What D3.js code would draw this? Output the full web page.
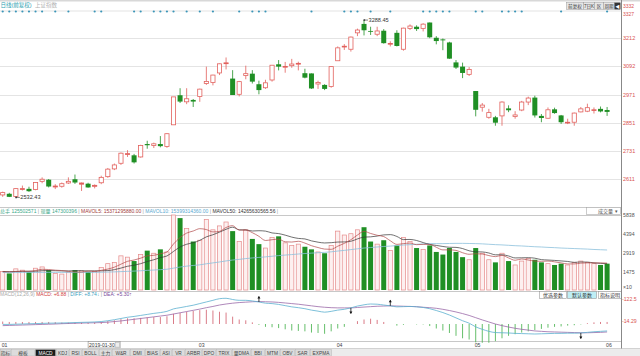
<!DOCTYPE html>
<html><head><meta charset="utf-8">
<script src="https://cdn.jsdelivr.net/npm/d3@7"></script>
<style>
body{margin:0;background:#fff;}
svg{display:block;font-family:"Liberation Sans","Noto Sans CJK SC",sans-serif;}
</style></head>
<body><svg id="c" width="640" height="356"></svg>
<script>
// ---------------- data ----------------
const dates = [
"2019-01-11","2019-01-14","2019-01-15","2019-01-16","2019-01-17","2019-01-18","2019-01-21","2019-01-22","2019-01-23","2019-01-24","2019-01-25","2019-01-28","2019-01-29","2019-01-30","2019-01-31",
"2019-02-01","2019-02-11","2019-02-12","2019-02-13","2019-02-14","2019-02-15","2019-02-18","2019-02-19","2019-02-20","2019-02-21","2019-02-22","2019-02-25","2019-02-26","2019-02-27","2019-02-28",
"2019-03-01","2019-03-04","2019-03-05","2019-03-06","2019-03-07","2019-03-08","2019-03-11","2019-03-12","2019-03-13","2019-03-14","2019-03-15","2019-03-18","2019-03-19","2019-03-20","2019-03-21","2019-03-22","2019-03-25","2019-03-26","2019-03-27","2019-03-28","2019-03-29",
"2019-04-01","2019-04-02","2019-04-03","2019-04-04","2019-04-08","2019-04-09","2019-04-10","2019-04-11","2019-04-12","2019-04-15","2019-04-16","2019-04-17","2019-04-18","2019-04-19","2019-04-22","2019-04-23","2019-04-24","2019-04-25","2019-04-26","2019-04-29","2019-04-30",
"2019-05-06","2019-05-07","2019-05-08","2019-05-09","2019-05-10","2019-05-13","2019-05-14","2019-05-15","2019-05-16","2019-05-17","2019-05-20","2019-05-21","2019-05-22","2019-05-23","2019-05-24","2019-05-27","2019-05-28","2019-05-29","2019-05-30","2019-05-31",
"2019-06-03"];
const opens = [2543,2548,2536,2568,2569,2566,2601,2608,2577,2580,2594,2610,2589,2591,2580,
2595,2621,2654,2678,2716,2712,2705,2760,2754,2760,2750,2842,2968,2940,2948,
2963,3018,3022,3063,3103,3039,2972,3052,3060,3015,3000,3033,3100,3088,3094,3101,3062,3061,3016,3012,3005,
3115,3174,3164,3234,3272,3242,3228,3243,3186,3234,3164,3253,3260,3253,3278,3213,3206,3193,3108,3090,3057,
2986,2917,2874,2874,2880,2912,2877,2905,2939,2958,2880,2870,2908,2882,2851,2853,2897,2900,2906,2910,
2905];
const highs = [2557,2552,2572,2583,2578,2598,2618,2611,2589,2596,2618,2630,2596,2595,2588,
2625,2658,2677,2724,2734,2718,2757,2774,2766,2794,2807,2961,2998,2998,2952,
2996,3090,3055,3104,3129,3075,3029,3094,3075,3030,3034,3097,3118,3110,3123,3111,3081,3061,3030,3015,3092,
3176,3186,3218,3252,3288.45,3260,3260,3250,3198,3245,3256,3270,3266,3275,3278,3220,3210,3196,3118,3107,3088,
2986,2935,2910,2880,2942,2925,2900,2944,2962,2966,2888,2916,2915,2884,2868,2894,2918,2932,2916,2920,
2918];
const lows = [2535,2534,2532.43,2562,2556,2563,2593,2575,2568,2574,2590,2590,2560,2574,2571,
2589,2616,2649,2671,2705,2677,2702,2740,2743,2746,2744,2841,2935,2930,2918,
2940,3012,3010,3054,3078,2969,2963,3036,3018,2972,2995,3026,3074,3064,3085,3074,3040,2995,2995,2990,3000,
3115,3161,3154,3220,3223,3225,3220,3188,3176,3176,3158,3246,3242,3240,3211,3185,3160,3123,3080,3041,3050,
2878,2898,2868,2838,2838,2896,2868,2900,2926,2873,2853,2868,2889,2846,2845,2838,2895,2896,2890,2895,
2880];
const closes = [2553,2535,2570,2570,2559,2596,2610,2579,2581,2591,2601,2596,2594,2575,2584,
2618,2653,2671,2721,2719,2682,2754,2755,2761,2751,2804,2961,2941,2953,2941,
2994,3027,3054,3102,3106,2969,3026,3060,3026,2990,3021,3096,3090,3091,3101,3104,3043,2997,3022,2995,3090,
3170,3177,3216,3246,3245,3240,3242,3190,3189,3178,3254,3263,3250,3271,3215,3199,3202,3124,3086,3063,3078,
2906,2926,2894,2851,2939,2904,2884,2939,2956,2882,2871,2906,2892,2853,2853,2892,2910,2915,2906,2899,
2897];
const volumes = [1500,1350,1700,1600,1450,1750,1850,1600,1350,1300,1450,1600,1550,1473,1500,
1800,2100,2200,2700,2600,2300,2800,3100,2900,3200,3000,5838,5600,4800,3800,
3900,5500,4700,5000,5300,4600,3800,4700,4000,3600,3300,4100,4200,3700,3500,3600,3400,3200,3000,2900,3500,
4600,4300,4400,4700,4900,3800,3600,3900,3100,3500,4100,3800,3300,3200,3500,3000,2800,3300,3000,2600,2400,
3300,2900,2400,2200,2900,2300,2000,2300,2500,2400,2200,2100,2000,2100,2000,2200,2300,2200,2100,2000,
2100];
const mavol5 = [1480,1470,1500,1520,1520,1570,1670,1650,1600,1570,1510,1460,1450,1537,1515,
1585,1685,1830,2060,2280,2380,2520,2700,2740,2860,3000,3608,4108,4448,4608,
4788,4720,4540,4580,4880,5020,4680,4680,4480,4200,3880,3940,3980,3780,3760,3820,3680,3480,3340,3220,3200,
3440,3660,3940,4300,4580,4420,4280,4180,3860,3580,3640,3680,3560,3580,3580,3360,3160,3160,3120,2940,2820,
2860,2840,2720,2640,2740,2540,2360,2460,2380,2300,2280,2300,2240,2160,2080,2080,2140,2160,2160,2160,
2140];
const mavol10 = [1500,1490,1500,1510,1510,1520,1560,1570,1560,1545,1540,1565,1560,1540,1545,
1550,1570,1640,1760,1900,1980,2100,2265,2400,2570,2690,3040,3380,3590,3710,
3890,4160,4320,4520,4740,4900,4700,4690,4610,4630,4600,4460,4410,4290,4140,4040,4000,3850,3750,3690,3710,
3760,3770,3820,4000,4140,4160,4220,4310,4330,4190,3950,3960,3880,3720,3580,3500,3420,3360,3350,3260,3090,
3010,3000,2920,2780,2780,2690,2540,2550,2560,2520,2410,2380,2350,2310,2270,2200,2230,2220,2160,2120,
2100];
const mavol50 = [1420,1421,1423,1425,1426,1428,1430,1431,1430,1429,1428,1428,1428,1427,1430,
1440,1455,1470,1490,1510,1530,1555,1585,1610,1640,1670,1755,1840,1910,1960,
2010,2090,2160,2230,2310,2380,2430,2490,2540,2580,2620,2670,2720,2760,2800,2840,2880,2910,2940,2970,3010,
3070,3120,3180,3240,3300,3340,3380,3420,3450,3490,3530,3560,3590,3620,3640,3640,3640,3650,3660,3660,3650,
3640,3620,3590,3560,3540,3510,3480,3460,3430,3400,3380,3350,3330,3300,3280,3260,3240,3220,3190,3170,
3150];
const diff = [-2,-2,-1,0,1,2,3,4,4.5,5,6,7,8,8.74,10,
12,16,21,27,33,37,42,47,52,56,62,74,80,86,92,
100,108,116,124,126,120,116,116,113,108,102,100,96,90,84,80,75,68,63,58,62,
68,72,79,88,94,98,97,93,89,84,85,86,84,81,75,66,56,44,30,16,4,
-14,-26,-36,-42,-43,-44,-46,-47,-48,-49,-48,-47,-46,-46,-45,-45,-44,-41,-38,-36,
-34];
const dea = [-8,-7,-6,-5,-4,-3,-2,-1,0,1.5,2.5,3.5,4.5,5.3,6,
7,9,12,15,19,23,27,31,35,39,43,49,55,61,67,
73,80,86,93,98,102,105,107,109,110,109,108,106,103,100,97,93,89,85,82,80,
79,79,79,81,83,85,87,88,89,88,87,86,85,82,80,77,72,66,59,51,42,
31,20,10,0,-8,-15,-21,-26,-30,-34,-36,-38,-39,-40,-41,-42,-43,-43,-42,-41,
-39];
const macdBars = [12,10,10,10,10,10,10,10,9,7,7,7,7,6.88,8,
10,14,18,24,28,28,30,32,34,34,38,50,54,60,64,
68,70,66,60,56,36,22,18,8,-4,-14,-16,-20,-26,-32,-34,-36,-42,-44,-48,-36,
-22,-14,0,14,22,26,20,10,0,-8,-4,0,-2,-2,-10,-22,-32,-44,-58,-70,-76,
-90,-92,-92,-84,-70,-58,-50,-42,-36,-30,-24,-18,-14,-12,-8,-6,-2,4,8,10,
10];
const priceTicks = [3212,3092,2971,2851,2731,2611];
const priceTopLabels = [3332,3327];
const volTicks = [5838,4394,2919,1475];
const volUnitLabel = "×10";
const macdTicks = [122.5,14.29];
const monthTicks = [["2019-01-11","01"],["2019-03-01","03"],["2019-04-01","04"],["2019-05-06","05"],["2019-06-03","06"]];
const signalDates = [0,1,2,3,4,5,6,8,10,14,15,20,21,23,24,25,26,28,30,32,36,38,39,40,47,52,53,54,56,59,64,65,66,67,68,72,73,76,77,78,79,85,92].map(i=>dates[i]);
const crossMarks = [["2019-03-14","up"],["2019-04-03","down"],["2019-04-12","up"],["2019-05-28","down"]];
const cursorDate = "2019-01-30";
const maxLabel = ["2019-04-08",3288.45];
const minLabel = ["2019-01-15",2532.43];
const tabs = ["指标","模板","MACD","KDJ","RSI","BOLL","主力","W&R","DMI","BIAS","ASI","VR","ARBR","DPO","TRIX","量DMA","BBI","MTM","OBV","SAR","EXPMA"];
const topButtons = ["前复权","7日K","区","周期"];
const paramButtons = ["优选参数","默认参数","指标说明"];

// ---------------- drawing ----------------
const svg = d3.select("#c");
const RED="#e2605c", GREEN="#1f8f24", AXIS_RED="#d9534f";
const AX = 621;
const x = d3.scalePoint().domain(dates).range([2.7, 607.1]);
const bw = 4.2;
const yP = d3.scaleLinear().domain([2611,3212]).range([179,38]);
const yV = d3.scaleLinear().domain([0,5838]).range([291,215]);
const yM = d3.scaleLinear().domain([0,122.5]).range([324,299]);

// header strip
svg.append("rect").attr("x",0).attr("y",0).attr("width",640).attr("height",1.5).attr("fill","#d8d8d8");
svg.append("text").attr("x",0.5).attr("y",7.2).attr("font-size",5.5).attr("fill","#2aa0b0").text("日线(前复权)");
svg.append("text").attr("x",35).attr("y",7.2).attr("font-size",5.5).attr("fill","#b0b0b0").text("上证指数");

// signal row
svg.append("line").attr("x1",0).attr("x2",AX).attr("y1",11).attr("y2",11).attr("stroke","#dcdcdc").attr("stroke-width",0.8);
svg.append("g").selectAll("circle").data(signalDates).join("circle")
  .attr("cx",d=>x(d)).attr("cy",11.5).attr("r",1.1).attr("fill","#3a95b8");

// main grid
svg.append("g").selectAll("line").data(priceTicks).join("line")
  .attr("x1",0).attr("x2",AX).attr("y1",d=>Math.round(yP(d))+0.5).attr("y2",d=>Math.round(yP(d))+0.5)
  .attr("stroke","#e4e4e4").attr("stroke-width",1);
svg.append("g").selectAll("text").data(priceTicks).join("text")
  .attr("x",AX+2).attr("y",d=>yP(d)+2).attr("font-size",5.5).attr("fill",AXIS_RED).text(d=>d);
svg.append("text").attr("x",AX+2).attr("y",yP(priceTopLabels[0])-1.5).attr("font-size",5).attr("fill",AXIS_RED).text(priceTopLabels[0]);
svg.append("text").attr("x",AX+2).attr("y",yP(priceTopLabels[1])+4.5).attr("font-size",5).attr("fill",AXIS_RED).text(priceTopLabels[1]);

// panel separators
[207.5,215.5,291.5,341.5].forEach(yy=>{
  svg.append("line").attr("x1",0).attr("x2",AX).attr("y1",yy).attr("y2",yy).attr("stroke","#c8c8c8").attr("stroke-width",1);
});

// candles
const cg = svg.append("g");
dates.forEach((d,i)=>{
  const o=opens[i],c=closes[i],h=highs[i],l=lows[i];
  const up = c>=o;
  const col = up?RED:GREEN;
  const cx = x(d);
  const top = yP(Math.max(o,c)), bot = yP(Math.min(o,c));
  const bh = Math.max(bot-top,0.8);
  if(up){
    cg.append("line").attr("x1",cx).attr("x2",cx).attr("y1",yP(h)).attr("y2",top).attr("stroke",col).attr("stroke-width",0.8);
    cg.append("line").attr("x1",cx).attr("x2",cx).attr("y1",top+bh).attr("y2",yP(l)).attr("stroke",col).attr("stroke-width",0.8);
    cg.append("rect").attr("x",cx-bw/2).attr("y",top).attr("width",bw).attr("height",bh)
      .attr("fill",bh<1.2?col:"#fff").attr("stroke",col).attr("stroke-width",0.8);
  } else {
    cg.append("line").attr("x1",cx).attr("x2",cx).attr("y1",yP(h)).attr("y2",yP(l)).attr("stroke",col).attr("stroke-width",0.8);
    cg.append("rect").attr("x",cx-bw/2-0.4).attr("y",top).attr("width",bw+0.8).attr("height",bh).attr("fill",col);
  }
});
function extremeLabel(d,val){
  const cx=x(d), cy=yP(val);
  svg.append("rect").attr("x",cx-0.5).attr("y",cy-0.8).attr("width",1.6).attr("height",1.6).attr("fill","#333");
  svg.append("line").attr("x1",cx+1).attr("x2",cx+4).attr("y1",cy).attr("y2",cy).attr("stroke","#333").attr("stroke-width",0.6);
  svg.append("text").attr("x",cx+4.5).attr("y",cy+2).attr("font-size",5.6).attr("fill","#333").text(val.toFixed(2));
}
extremeLabel(maxLabel[0],maxLabel[1]);
extremeLabel(minLabel[0],minLabel[1]);

// volume legend
const vl = svg.append("text").attr("x",0).attr("y",213.2).attr("font-size",5);
[["总手 125502571","#3aa88a"],[" | ","#999"],["现量 147300396","#3aa88a"],[" | ","#999"],
 ["MAVOL5: 15371295880.00","#a03a3a"],[" | ","#999"],["MAVOL10: 15399314360.00","#5aa8d0"],[" | ","#999"],
 ["MAVOL50: 14265630565.56","#333"],[" | ","#999"]].forEach(([t,c])=>vl.append("tspan").attr("fill",c).text(t));
svg.append("rect").attr("x",586.5).attr("y",207.5).attr("width",34).attr("height",7).attr("fill","#fff").attr("stroke","#aaa").attr("stroke-width",0.6);
svg.append("text").attr("x",598).attr("y",212.8).attr("font-size",5).attr("fill","#555").text("成交量");
svg.append("text").attr("x",615).attr("y",212.8).attr("font-size",4.5).attr("fill","#555").text("▾");

// volume bars
const vg = svg.append("g");
dates.forEach((d,i)=>{
  const up = closes[i]>=opens[i];
  const cx=x(d), t=yV(volumes[i]), b=Math.min(yV(0),290);
  if(up) vg.append("rect").attr("x",cx-bw/2).attr("y",t).attr("width",bw).attr("height",b-t)
     .attr("fill","#fdf0f0").attr("stroke","#e58a8a").attr("stroke-width",0.7);
  else vg.append("rect").attr("x",cx-bw/2-0.4).attr("y",t).attr("width",bw+0.8).attr("height",b-t).attr("fill",GREEN);
});
const lineV = arr => d3.line().x((v,i)=>x(dates[i])).y(v=>yV(v)).curve(d3.curveMonotoneX)(arr);
svg.append("path").attr("d",lineV(mavol50)).attr("fill","none").attr("stroke","#8cc0dc").attr("stroke-width",0.8);
svg.append("path").attr("d",lineV(mavol10)).attr("fill","none").attr("stroke","#333").attr("stroke-width",0.7);
svg.append("path").attr("d",lineV(mavol5)).attr("fill","none").attr("stroke","#b04848").attr("stroke-width",0.7);
svg.append("g").selectAll("text").data(volTicks).join("text")
  .attr("x",AX+2).attr("y",d=>yV(d)+2).attr("font-size",5.2).attr("fill","#555").text(d=>d);
svg.append("text").attr("x",AX+2).attr("y",289).attr("font-size",5.2).attr("fill","#555").text(volUnitLabel);

// MACD legend
const ml = svg.append("text").attr("x",0).attr("y",296.2).attr("font-size",5);
[["MACD(12,26,9)  ","#aaa"],["MACD: +6.88","#d04040"],[" | ","#999"],["DIFF: +8.74↓","#3aa0c0"],[" | ","#999"],["DEA: +5.30↑","#7a4a9a"]]
  .forEach(([t,c])=>ml.append("tspan").attr("fill",c).text(t));
const pbx=[539,567,598], pbw=[27,29,23];
paramButtons.forEach((t,i)=>{
  svg.append("rect").attr("x",pbx[i]+0.5).attr("y",291.5).attr("width",pbw[i]).attr("height",7)
    .attr("fill",i===1?"#bfeef5":"#fff").attr("stroke","#999").attr("stroke-width",0.6);
  svg.append("text").attr("x",pbx[i]+pbw[i]/2+0.5).attr("y",296.8).attr("text-anchor","middle").attr("font-size",5).attr("fill","#333").text(t);
});

// MACD histogram + lines
svg.append("g").selectAll("line").data(macdBars).join("line")
  .attr("x1",(v,i)=>x(dates[i])).attr("x2",(v,i)=>x(dates[i]))
  .attr("y1",yM(0)).attr("y2",v=>yM(v)).attr("stroke",v=>v>=0?"#d05a6a":"#3fae45").attr("stroke-width",0.8);
const lineM = arr => d3.line().x((v,i)=>x(dates[i])).y(v=>yM(v)).curve(d3.curveMonotoneX)(arr);
svg.append("path").attr("d",lineM(dea)).attr("fill","none").attr("stroke","#9a6aa8").attr("stroke-width",0.8);
svg.append("path").attr("d",lineM(diff)).attr("fill","none").attr("stroke","#5cb0cf").attr("stroke-width",0.8);
crossMarks.forEach(([d,dir])=>{
  const i=dates.indexOf(d), cx=x(d), cy=yM(diff[i]);
  const g=svg.append("g").attr("fill","#111").attr("stroke","#111");
  if(dir==="up"){
    g.append("line").attr("x1",cx).attr("x2",cx).attr("y1",cy-5.5).attr("y2",cy).attr("stroke-width",0.8);
    g.append("path").attr("d",`M${cx-1.5},${cy-3.5}L${cx},${cy-6}L${cx+1.5},${cy-3.5}Z`).attr("stroke","none");
  } else {
    g.append("line").attr("x1",cx).attr("x2",cx).attr("y1",cy).attr("y2",cy+5.5).attr("stroke-width",0.8);
    g.append("path").attr("d",`M${cx-1.5},${cy+3.5}L${cx},${cy+6}L${cx+1.5},${cy+3.5}Z`).attr("stroke","none");
  }
});
svg.append("g").selectAll("text").data(macdTicks).join("text")
  .attr("x",AX+1).attr("y",d=>yM(d)+2).attr("font-size",5.2).attr("fill",AXIS_RED).text(d=>"-"+d);

// x axis labels
svg.append("g").selectAll("text").data(monthTicks).join("text")
  .attr("x",d=>x(d[0])-1).attr("y",346.8).attr("font-size",5.2).attr("fill","#444").text(d=>d[1]);
const cxd = x(cursorDate);
svg.append("rect").attr("x",cxd).attr("y",341.5).attr("width",32).attr("height",6.5).attr("fill","#fff").attr("stroke","#888").attr("stroke-width",0.6);
svg.append("text").attr("x",cxd+1).attr("y",346.6).attr("font-size",5).attr("fill","#333").text(cursorDate);
svg.append("rect").attr("x",cxd+27).attr("y",342.3).attr("width",4.2).attr("height",4.8).attr("fill","#eee").attr("stroke","#999").attr("stroke-width",0.4);

// tabs
svg.append("rect").attr("x",0).attr("y",348.5).attr("width",640).attr("height",7.5).attr("fill","#ececec");
svg.append("line").attr("x1",0).attr("x2",640).attr("y1",348.5).attr("y2",348.5).attr("stroke","#bbb").attr("stroke-width",0.6);
const tabStarts = [0,11,35,56,69,82,99,112,130,145,160,172,185,202,216,232,251,265,280,295,310,332];
tabs.forEach((t,i)=>{
  const x0=tabStarts[i], w=tabStarts[i+1]-x0-1;
  const sel = t==="MACD";
  svg.append("rect").attr("x",x0+0.5).attr("y",349.5).attr("width",w).attr("height",6.5)
    .attr("fill",sel?"#1a1a1a":"#dcdcdc").attr("stroke","#aaa").attr("stroke-width",0.4);
  svg.append("text").attr("x",x0+0.5+w/2).attr("y",354.6).attr("text-anchor","middle").attr("font-size",4.8)
    .attr("fill",sel?"#fff":"#444").text(t);
});

// right axis line
svg.append("line").attr("x1",AX+0.5).attr("x2",AX+0.5).attr("y1",0).attr("y2",348.5).attr("stroke","#888").attr("stroke-width",1);

// top-right buttons
const tbx=[566,583,594,603], tbw=[17,11,9,11];
topButtons.forEach((t,i)=>{
  svg.append("rect").attr("x",tbx[i]+0.5).attr("y",2.5).attr("width",tbw[i]).attr("height",7).attr("fill","#e6e6e6").attr("stroke","#999").attr("stroke-width",0.5);
  svg.append("text").attr("x",tbx[i]+tbw[i]/2+0.5).attr("y",7.8).attr("text-anchor","middle").attr("font-size",4.6).attr("fill","#333").text(t);
});
svg.append("rect").attr("x",614.5).attr("y",2.5).attr("width",6).attr("height",7).attr("fill","#333");
svg.append("text").attr("x",617.5).attr("y",7.8).attr("text-anchor","middle").attr("font-size",4.6).attr("fill","#fff").text("◀");
</script></body></html>
